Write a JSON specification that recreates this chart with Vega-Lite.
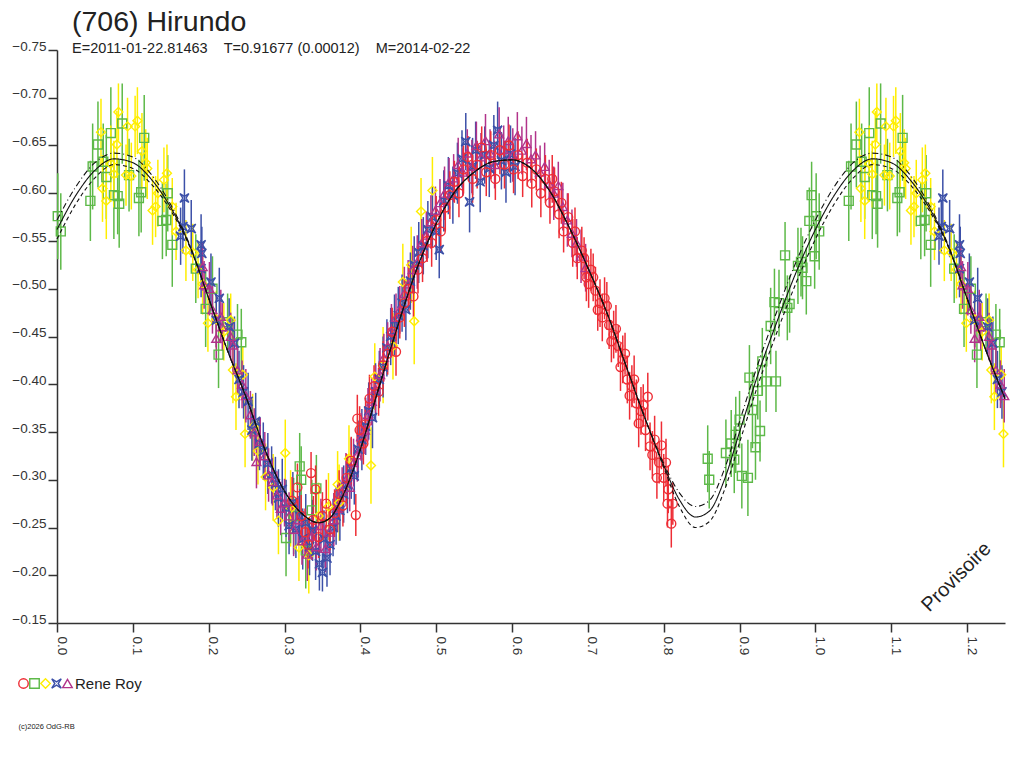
{
  "$schema": "https://vega.github.io/schema/vega-lite/v6.json",
  "autosize": "none",
  "padding": {"left": 57, "top": 50, "right": 19, "bottom": 145},
  "width": 948,
  "height": 573,
  "background": "white",
  "title": {
    "text": "(706) Hirundo",
    "subtitle": "E=2011-01-22.81463\u00a0\u00a0\u00a0\u00a0T=0.91677 (0.00012)\u00a0\u00a0\u00a0\u00a0M=2014-02-22",
    "anchor": "start",
    "frame": "group",
    "dx": 15,
    "offset": -16,
    "font": "Liberation Sans",
    "fontSize": 28.5,
    "fontWeight": "normal",
    "color": "#222222",
    "subtitleFont": "Liberation Sans",
    "subtitleFontSize": 14.5,
    "subtitleColor": "#222222",
    "subtitlePadding": 5
  },
  "config": {
    "view": {"stroke": null},
    "axis": {
      "grid": false,
      "domainColor": "#333333",
      "domainWidth": 1.5,
      "tickColor": "#333333",
      "tickWidth": 1.5,
      "tickSize": 9,
      "labelColor": "#333333",
      "labelFont": "Liberation Sans",
      "labelFontSize": 13.5,
      "labelFlush": false,
      "labelOverlap": false
    },
    "legend": {
      "orient": "none",
      "legendX": -41,
      "legendY": 626,
      "direction": "horizontal",
      "gridAlign": "none",
      "padding": 0,
      "labelOffset": 0,
      "symbolSize": 90,
      "symbolStrokeWidth": 1.4,
      "labelFont": "Liberation Sans",
      "labelFontSize": 15,
      "labelColor": "#222222"
    }
  },
  "datasets": {
    "pts": [
      {"s":"G","p":0.001,"m":-0.576,"e":0.045},{"s":"G","p":0.005,"m":-0.560,"e":0.040},{"s":"G","p":0.044,"m":-0.592,"e":0.042},
      {"s":"G","p":0.047,"m":-0.628,"e":0.045},{"s":"G","p":0.054,"m":-0.651,"e":0.045},{"s":"G","p":0.061,"m":-0.633,"e":0.040},
      {"s":"G","p":0.065,"m":-0.617,"e":0.044},{"s":"G","p":0.071,"m":-0.663,"e":0.048},{"s":"G","p":0.075,"m":-0.598,"e":0.046},
      {"s":"G","p":0.080,"m":-0.597,"e":0.040},{"s":"G","p":0.082,"m":-0.589,"e":0.046},{"s":"G","p":0.086,"m":-0.673,"e":0.042},
      {"s":"G","p":0.095,"m":-0.619,"e":0.038},{"s":"G","p":0.108,"m":-0.595,"e":0.040},{"s":"G","p":0.111,"m":-0.601,"e":0.042},
      {"s":"G","p":0.115,"m":-0.658,"e":0.045},{"s":"G","p":0.139,"m":-0.571,"e":0.040},{"s":"G","p":0.144,"m":-0.572,"e":0.038},
      {"s":"G","p":0.146,"m":-0.600,"e":0.040},{"s":"G","p":0.152,"m":-0.546,"e":0.044},{"s":"G","p":0.183,"m":-0.521,"e":0.036},
      {"s":"G","p":0.196,"m":-0.479,"e":0.040},{"s":"G","p":0.205,"m":-0.500,"e":0.034},{"s":"G","p":0.213,"m":-0.431,"e":0.035},
      {"s":"G","p":0.225,"m":-0.465,"e":0.030},{"s":"G","p":0.238,"m":-0.452,"e":0.032},{"s":"G","p":0.243,"m":-0.444,"e":0.035},
      {"s":"G","p":0.302,"m":-0.239,"e":0.040},{"s":"G","p":0.312,"m":-0.262,"e":0.040},{"s":"G","p":0.320,"m":-0.314,"e":0.035},
      {"s":"G","p":0.322,"m":-0.300,"e":0.035},{"s":"G","p":0.328,"m":-0.226,"e":0.040},{"s":"G","p":0.336,"m":-0.268,"e":0.032},
      {"s":"G","p":0.342,"m":-0.291,"e":0.035},
      {"s":"G","p":0.858,"m":-0.322,"e":0.035},{"s":"G","p":0.860,"m":-0.300,"e":0.030},{"s":"G","p":0.882,"m":-0.328,"e":0.035},
      {"s":"G","p":0.889,"m":-0.338,"e":0.035},{"s":"G","p":0.893,"m":-0.321,"e":0.035},{"s":"G","p":0.895,"m":-0.347,"e":0.040},
      {"s":"G","p":0.900,"m":-0.363,"e":0.030},{"s":"G","p":0.903,"m":-0.304,"e":0.034},{"s":"G","p":0.911,"m":-0.302,"e":0.040},
      {"s":"G","p":0.913,"m":-0.407,"e":0.034},{"s":"G","p":0.917,"m":-0.373,"e":0.040},{"s":"G","p":0.921,"m":-0.334,"e":0.034},
      {"s":"G","p":0.924,"m":-0.393,"e":0.030},{"s":"G","p":0.927,"m":-0.351,"e":0.032},{"s":"G","p":0.930,"m":-0.424,"e":0.035},
      {"s":"G","p":0.935,"m":-0.403,"e":0.032},{"s":"G","p":0.941,"m":-0.461,"e":0.040},{"s":"G","p":0.946,"m":-0.486,"e":0.035},
      {"s":"G","p":0.948,"m":-0.403,"e":0.032},{"s":"G","p":0.952,"m":-0.485,"e":0.035},{"s":"G","p":0.960,"m":-0.535,"e":0.035},
      {"s":"G","p":0.963,"m":-0.480,"e":0.034},{"s":"G","p":0.966,"m":-0.484,"e":0.030},{"s":"G","p":0.977,"m":-0.524,"e":0.040},
      {"s":"G","p":0.981,"m":-0.528,"e":0.036},{"s":"G","p":0.983,"m":-0.522,"e":0.033},{"s":"G","p":0.988,"m":-0.508,"e":0.035},
      {"s":"G","p":0.992,"m":-0.571,"e":0.035},{"s":"G","p":0.995,"m":-0.598,"e":0.035},{"s":"G","p":0.999,"m":-0.534,"e":0.034},
      {"s":"G","p":1.001,"m":-0.576,"e":0.045},{"s":"G","p":1.005,"m":-0.560,"e":0.040},{"s":"G","p":1.044,"m":-0.592,"e":0.042},
      {"s":"G","p":1.047,"m":-0.628,"e":0.045},{"s":"G","p":1.054,"m":-0.651,"e":0.045},{"s":"G","p":1.061,"m":-0.633,"e":0.040},
      {"s":"G","p":1.065,"m":-0.617,"e":0.044},{"s":"G","p":1.071,"m":-0.663,"e":0.048},{"s":"G","p":1.075,"m":-0.598,"e":0.046},
      {"s":"G","p":1.080,"m":-0.597,"e":0.040},{"s":"G","p":1.082,"m":-0.589,"e":0.046},{"s":"G","p":1.086,"m":-0.673,"e":0.042},
      {"s":"G","p":1.095,"m":-0.619,"e":0.038},{"s":"G","p":1.108,"m":-0.595,"e":0.040},{"s":"G","p":1.111,"m":-0.601,"e":0.042},
      {"s":"G","p":1.115,"m":-0.658,"e":0.045},{"s":"G","p":1.139,"m":-0.571,"e":0.040},{"s":"G","p":1.144,"m":-0.572,"e":0.038},
      {"s":"G","p":1.146,"m":-0.600,"e":0.040},{"s":"G","p":1.152,"m":-0.546,"e":0.044},{"s":"G","p":1.183,"m":-0.521,"e":0.036},
      {"s":"G","p":1.196,"m":-0.479,"e":0.040},{"s":"G","p":1.205,"m":-0.500,"e":0.034},{"s":"G","p":1.213,"m":-0.431,"e":0.035},
      {"s":"G","p":1.225,"m":-0.465,"e":0.030},{"s":"G","p":1.238,"m":-0.452,"e":0.032},{"s":"G","p":1.243,"m":-0.444,"e":0.035},

      {"s":"Y","p":0.058,"m":-0.664,"e":0.035},{"s":"Y","p":0.060,"m":-0.605,"e":0.035},{"s":"Y","p":0.065,"m":-0.592,"e":0.040},
      {"s":"Y","p":0.071,"m":-0.631,"e":0.040},{"s":"Y","p":0.075,"m":-0.620,"e":0.035},{"s":"Y","p":0.079,"m":-0.651,"e":0.035},
      {"s":"Y","p":0.081,"m":-0.685,"e":0.030},{"s":"Y","p":0.091,"m":-0.619,"e":0.032},{"s":"Y","p":0.093,"m":-0.670,"e":0.030},
      {"s":"Y","p":0.098,"m":-0.618,"e":0.035},{"s":"Y","p":0.103,"m":-0.670,"e":0.032},{"s":"Y","p":0.106,"m":-0.676,"e":0.035},
      {"s":"Y","p":0.112,"m":-0.644,"e":0.040},{"s":"Y","p":0.117,"m":-0.632,"e":0.035},{"s":"Y","p":0.119,"m":-0.626,"e":0.032},
      {"s":"Y","p":0.126,"m":-0.582,"e":0.036},{"s":"Y","p":0.130,"m":-0.586,"e":0.032},{"s":"Y","p":0.133,"m":-0.600,"e":0.035},
      {"s":"Y","p":0.141,"m":-0.614,"e":0.034},{"s":"Y","p":0.145,"m":-0.621,"e":0.030},{"s":"Y","p":0.152,"m":-0.586,"e":0.030},
      {"s":"Y","p":0.157,"m":-0.560,"e":0.030},{"s":"Y","p":0.170,"m":-0.540,"e":0.032},{"s":"Y","p":0.179,"m":-0.538,"e":0.030},
      {"s":"Y","p":0.186,"m":-0.520,"e":0.030},{"s":"Y","p":0.192,"m":-0.505,"e":0.032},{"s":"Y","p":0.199,"m":-0.464,"e":0.030},
      {"s":"Y","p":0.210,"m":-0.468,"e":0.030},{"s":"Y","p":0.220,"m":-0.455,"e":0.030},{"s":"Y","p":0.229,"m":-0.467,"e":0.028},
      {"s":"Y","p":0.232,"m":-0.415,"e":0.035},{"s":"Y","p":0.236,"m":-0.387,"e":0.035},{"s":"Y","p":0.245,"m":-0.410,"e":0.030},
      {"s":"Y","p":0.248,"m":-0.348,"e":0.035},
      {"s":"Y","p":0.258,"m":-0.355,"e":0.035},{"s":"Y","p":0.265,"m":-0.330,"e":0.035},{"s":"Y","p":0.275,"m":-0.303,"e":0.035},
      {"s":"Y","p":0.285,"m":-0.292,"e":0.035},{"s":"Y","p":0.292,"m":-0.257,"e":0.035},{"s":"Y","p":0.301,"m":-0.328,"e":0.035},
      {"s":"Y","p":0.308,"m":-0.270,"e":0.040},{"s":"Y","p":0.319,"m":-0.229,"e":0.035},{"s":"Y","p":0.332,"m":-0.221,"e":0.040},
      {"s":"Y","p":0.345,"m":-0.262,"e":0.035},{"s":"Y","p":0.358,"m":-0.272,"e":0.035},{"s":"Y","p":0.370,"m":-0.295,"e":0.035},
      {"s":"Y","p":0.372,"m":-0.276,"e":0.040},{"s":"Y","p":0.385,"m":-0.322,"e":0.035},{"s":"Y","p":0.414,"m":-0.315,"e":0.040},
      {"s":"Y","p":0.419,"m":-0.408,"e":0.035},{"s":"Y","p":0.430,"m":-0.420,"e":0.040},{"s":"Y","p":0.443,"m":-0.440,"e":0.035},
      {"s":"Y","p":0.456,"m":-0.507,"e":0.040},{"s":"Y","p":0.467,"m":-0.525,"e":0.040},{"s":"Y","p":0.471,"m":-0.466,"e":0.045},
      {"s":"Y","p":0.480,"m":-0.581,"e":0.035},{"s":"Y","p":0.495,"m":-0.603,"e":0.035},
      {"s":"Y","p":1.058,"m":-0.664,"e":0.035},{"s":"Y","p":1.060,"m":-0.605,"e":0.035},{"s":"Y","p":1.065,"m":-0.592,"e":0.040},
      {"s":"Y","p":1.071,"m":-0.631,"e":0.040},{"s":"Y","p":1.075,"m":-0.620,"e":0.035},{"s":"Y","p":1.079,"m":-0.651,"e":0.035},
      {"s":"Y","p":1.081,"m":-0.685,"e":0.030},{"s":"Y","p":1.091,"m":-0.619,"e":0.032},{"s":"Y","p":1.093,"m":-0.670,"e":0.030},
      {"s":"Y","p":1.098,"m":-0.618,"e":0.035},{"s":"Y","p":1.103,"m":-0.670,"e":0.032},{"s":"Y","p":1.106,"m":-0.676,"e":0.035},
      {"s":"Y","p":1.112,"m":-0.644,"e":0.040},{"s":"Y","p":1.117,"m":-0.632,"e":0.035},{"s":"Y","p":1.119,"m":-0.626,"e":0.032},
      {"s":"Y","p":1.126,"m":-0.582,"e":0.036},{"s":"Y","p":1.130,"m":-0.586,"e":0.032},{"s":"Y","p":1.133,"m":-0.600,"e":0.035},
      {"s":"Y","p":1.141,"m":-0.614,"e":0.034},{"s":"Y","p":1.145,"m":-0.621,"e":0.030},{"s":"Y","p":1.152,"m":-0.586,"e":0.030},
      {"s":"Y","p":1.157,"m":-0.560,"e":0.030},{"s":"Y","p":1.170,"m":-0.540,"e":0.032},{"s":"Y","p":1.179,"m":-0.538,"e":0.030},
      {"s":"Y","p":1.186,"m":-0.520,"e":0.030},{"s":"Y","p":1.192,"m":-0.505,"e":0.032},{"s":"Y","p":1.199,"m":-0.464,"e":0.030},
      {"s":"Y","p":1.210,"m":-0.468,"e":0.030},{"s":"Y","p":1.220,"m":-0.455,"e":0.030},{"s":"Y","p":1.229,"m":-0.467,"e":0.028},
      {"s":"Y","p":1.232,"m":-0.415,"e":0.035},{"s":"Y","p":1.236,"m":-0.387,"e":0.035},{"s":"Y","p":1.245,"m":-0.410,"e":0.030},
      {"s":"Y","p":1.248,"m":-0.348,"e":0.035},

      {"s":"B","p":0.163,"m":-0.555,"e":0.030},{"s":"B","p":0.166,"m":-0.565,"e":0.028},{"s":"B","p":0.168,"m":-0.595,"e":0.030},
      {"s":"B","p":0.177,"m":-0.563,"e":0.030},{"s":"B","p":0.190,"m":-0.546,"e":0.032},{"s":"B","p":0.191,"m":-0.537,"e":0.028},
      {"s":"B","p":0.190,"m":-0.521,"e":0.030},{"s":"B","p":0.203,"m":-0.507,"e":0.030},{"s":"B","p":0.210,"m":-0.467,"e":0.028},
      {"s":"B","p":0.214,"m":-0.490,"e":0.032},{"s":"B","p":0.227,"m":-0.460,"e":0.030},{"s":"B","p":0.234,"m":-0.443,"e":0.028},
      {"s":"B","p":0.240,"m":-0.405,"e":0.030},{"s":"B","p":0.246,"m":-0.392,"e":0.028},{"s":"B","p":0.252,"m":-0.382,"e":0.030},
      {"s":"B","p":0.257,"m":-0.352,"e":0.032},{"s":"B","p":0.262,"m":-0.361,"e":0.030},{"s":"B","p":0.267,"m":-0.338,"e":0.028},
      {"s":"B","p":0.272,"m":-0.330,"e":0.030},{"s":"B","p":0.278,"m":-0.317,"e":0.032},{"s":"B","p":0.283,"m":-0.305,"e":0.030},
      {"s":"B","p":0.288,"m":-0.296,"e":0.028},{"s":"B","p":0.292,"m":-0.281,"e":0.030},{"s":"B","p":0.297,"m":-0.290,"e":0.032},
      {"s":"B","p":0.302,"m":-0.270,"e":0.030},{"s":"B","p":0.306,"m":-0.252,"e":0.030},{"s":"B","p":0.311,"m":-0.276,"e":0.032},
      {"s":"B","p":0.315,"m":-0.248,"e":0.030},{"s":"B","p":0.320,"m":-0.262,"e":0.028},{"s":"B","p":0.324,"m":-0.238,"e":0.032},
      {"s":"B","p":0.328,"m":-0.255,"e":0.030},{"s":"B","p":0.333,"m":-0.230,"e":0.030},{"s":"B","p":0.337,"m":-0.247,"e":0.032},
      {"s":"B","p":0.341,"m":-0.225,"e":0.030},{"s":"B","p":0.346,"m":-0.212,"e":0.028},{"s":"B","p":0.350,"m":-0.203,"e":0.020},
      {"s":"B","p":0.352,"m":-0.238,"e":0.030},{"s":"B","p":0.356,"m":-0.218,"e":0.030},{"s":"B","p":0.360,"m":-0.232,"e":0.032},
      {"s":"B","p":0.364,"m":-0.250,"e":0.030},{"s":"B","p":0.368,"m":-0.262,"e":0.030},{"s":"B","p":0.373,"m":-0.268,"e":0.032},
      {"s":"B","p":0.378,"m":-0.285,"e":0.030},{"s":"B","p":0.383,"m":-0.295,"e":0.030},{"s":"B","p":0.388,"m":-0.312,"e":0.032},
      {"s":"B","p":0.392,"m":-0.304,"e":0.030},{"s":"B","p":0.397,"m":-0.332,"e":0.030},{"s":"B","p":0.402,"m":-0.342,"e":0.032},
      {"s":"B","p":0.407,"m":-0.356,"e":0.030},{"s":"B","p":0.411,"m":-0.372,"e":0.030},{"s":"B","p":0.416,"m":-0.365,"e":0.032},
      {"s":"B","p":0.420,"m":-0.392,"e":0.030},{"s":"B","p":0.425,"m":-0.405,"e":0.030},{"s":"B","p":0.430,"m":-0.418,"e":0.032},
      {"s":"B","p":0.435,"m":-0.438,"e":0.030},{"s":"B","p":0.440,"m":-0.450,"e":0.030},{"s":"B","p":0.445,"m":-0.462,"e":0.032},
      {"s":"B","p":0.450,"m":-0.472,"e":0.030},{"s":"B","p":0.455,"m":-0.485,"e":0.030},{"s":"B","p":0.460,"m":-0.478,"e":0.032},
      {"s":"B","p":0.466,"m":-0.508,"e":0.030},{"s":"B","p":0.471,"m":-0.525,"e":0.030},{"s":"B","p":0.477,"m":-0.538,"e":0.032},
      {"s":"B","p":0.483,"m":-0.545,"e":0.030},{"s":"B","p":0.489,"m":-0.562,"e":0.030},{"s":"B","p":0.495,"m":-0.575,"e":0.032},
      {"s":"B","p":0.500,"m":-0.560,"e":0.030},{"s":"B","p":0.504,"m":-0.541,"e":0.030},{"s":"B","p":0.510,"m":-0.592,"e":0.032},
      {"s":"B","p":0.516,"m":-0.608,"e":0.030},{"s":"B","p":0.522,"m":-0.598,"e":0.030},{"s":"B","p":0.528,"m":-0.621,"e":0.032},
      {"s":"B","p":0.534,"m":-0.636,"e":0.030},{"s":"B","p":0.539,"m":-0.654,"e":0.030},{"s":"B","p":0.544,"m":-0.591,"e":0.032},
      {"s":"B","p":0.548,"m":-0.628,"e":0.030},{"s":"B","p":0.552,"m":-0.645,"e":0.030},{"s":"B","p":0.558,"m":-0.612,"e":0.032},
      {"s":"B","p":0.564,"m":-0.640,"e":0.030},{"s":"B","p":0.570,"m":-0.626,"e":0.030},{"s":"B","p":0.576,"m":-0.650,"e":0.032},
      {"s":"B","p":0.581,"m":-0.666,"e":0.030},{"s":"B","p":0.586,"m":-0.634,"e":0.030},{"s":"B","p":0.592,"m":-0.622,"e":0.032},
      {"s":"B","p":0.598,"m":-0.641,"e":0.030},{"s":"B","p":0.604,"m":-0.628,"e":0.030},
      {"s":"B","p":1.163,"m":-0.555,"e":0.030},{"s":"B","p":1.166,"m":-0.565,"e":0.028},{"s":"B","p":1.168,"m":-0.595,"e":0.030},
      {"s":"B","p":1.177,"m":-0.563,"e":0.030},{"s":"B","p":1.190,"m":-0.546,"e":0.032},{"s":"B","p":1.191,"m":-0.537,"e":0.028},
      {"s":"B","p":1.190,"m":-0.521,"e":0.030},{"s":"B","p":1.203,"m":-0.507,"e":0.030},{"s":"B","p":1.210,"m":-0.467,"e":0.028},
      {"s":"B","p":1.214,"m":-0.490,"e":0.032},{"s":"B","p":1.227,"m":-0.460,"e":0.030},{"s":"B","p":1.234,"m":-0.443,"e":0.028},
      {"s":"B","p":1.240,"m":-0.405,"e":0.030},{"s":"B","p":1.246,"m":-0.392,"e":0.028},

      {"s":"P","p":0.192,"m":-0.523,"e":0.025},{"s":"P","p":0.194,"m":-0.504,"e":0.025},{"s":"P","p":0.201,"m":-0.500,"e":0.028},
      {"s":"P","p":0.205,"m":-0.478,"e":0.025},{"s":"P","p":0.210,"m":-0.448,"e":0.025},{"s":"P","p":0.216,"m":-0.471,"e":0.028},
      {"s":"P","p":0.218,"m":-0.460,"e":0.025},{"s":"P","p":0.229,"m":-0.450,"e":0.025},{"s":"P","p":0.232,"m":-0.441,"e":0.028},
      {"s":"P","p":0.238,"m":-0.415,"e":0.025},{"s":"P","p":0.244,"m":-0.400,"e":0.025},{"s":"P","p":0.249,"m":-0.388,"e":0.028},
      {"s":"P","p":0.255,"m":-0.368,"e":0.025},{"s":"P","p":0.260,"m":-0.350,"e":0.025},{"s":"P","p":0.263,"m":-0.319,"e":0.028},
      {"s":"P","p":0.268,"m":-0.340,"e":0.025},{"s":"P","p":0.274,"m":-0.325,"e":0.025},{"s":"P","p":0.279,"m":-0.305,"e":0.028},
      {"s":"P","p":0.284,"m":-0.298,"e":0.025},{"s":"P","p":0.290,"m":-0.284,"e":0.025},{"s":"P","p":0.295,"m":-0.270,"e":0.028},
      {"s":"P","p":0.300,"m":-0.276,"e":0.025},{"s":"P","p":0.306,"m":-0.262,"e":0.025},{"s":"P","p":0.312,"m":-0.248,"e":0.028},
      {"s":"P","p":0.318,"m":-0.258,"e":0.025},{"s":"P","p":0.323,"m":-0.236,"e":0.025},{"s":"P","p":0.330,"m":-0.222,"e":0.028},
      {"s":"P","p":0.336,"m":-0.241,"e":0.025},{"s":"P","p":0.342,"m":-0.230,"e":0.025},{"s":"P","p":0.348,"m":-0.252,"e":0.028},
      {"s":"P","p":0.354,"m":-0.228,"e":0.025},{"s":"P","p":0.359,"m":-0.245,"e":0.025},{"s":"P","p":0.365,"m":-0.258,"e":0.028},
      {"s":"P","p":0.370,"m":-0.270,"e":0.025},{"s":"P","p":0.376,"m":-0.288,"e":0.025},{"s":"P","p":0.381,"m":-0.300,"e":0.028},
      {"s":"P","p":0.386,"m":-0.292,"e":0.025},{"s":"P","p":0.391,"m":-0.318,"e":0.025},{"s":"P","p":0.396,"m":-0.326,"e":0.028},
      {"s":"P","p":0.401,"m":-0.345,"e":0.025},{"s":"P","p":0.406,"m":-0.352,"e":0.025},{"s":"P","p":0.410,"m":-0.368,"e":0.028},
      {"s":"P","p":0.415,"m":-0.382,"e":0.025},{"s":"P","p":0.420,"m":-0.395,"e":0.025},{"s":"P","p":0.426,"m":-0.410,"e":0.028},
      {"s":"P","p":0.431,"m":-0.428,"e":0.025},{"s":"P","p":0.436,"m":-0.440,"e":0.025},{"s":"P","p":0.441,"m":-0.456,"e":0.028},
      {"s":"P","p":0.447,"m":-0.470,"e":0.025},{"s":"P","p":0.452,"m":-0.478,"e":0.025},{"s":"P","p":0.458,"m":-0.495,"e":0.028},
      {"s":"P","p":0.463,"m":-0.505,"e":0.025},{"s":"P","p":0.469,"m":-0.520,"e":0.025},{"s":"P","p":0.475,"m":-0.528,"e":0.028},
      {"s":"P","p":0.481,"m":-0.548,"e":0.025},{"s":"P","p":0.487,"m":-0.556,"e":0.025},{"s":"P","p":0.493,"m":-0.570,"e":0.028},
      {"s":"P","p":0.499,"m":-0.582,"e":0.025},{"s":"P","p":0.505,"m":-0.590,"e":0.025},{"s":"P","p":0.511,"m":-0.600,"e":0.028},
      {"s":"P","p":0.517,"m":-0.612,"e":0.025},{"s":"P","p":0.523,"m":-0.616,"e":0.025},{"s":"P","p":0.529,"m":-0.630,"e":0.028},
      {"s":"P","p":0.535,"m":-0.622,"e":0.025},{"s":"P","p":0.541,"m":-0.642,"e":0.025},{"s":"P","p":0.547,"m":-0.628,"e":0.028},
      {"s":"P","p":0.553,"m":-0.650,"e":0.025},{"s":"P","p":0.559,"m":-0.638,"e":0.025},{"s":"P","p":0.565,"m":-0.655,"e":0.028},
      {"s":"P","p":0.571,"m":-0.642,"e":0.025},{"s":"P","p":0.577,"m":-0.630,"e":0.025},{"s":"P","p":0.583,"m":-0.662,"e":0.028},
      {"s":"P","p":0.589,"m":-0.646,"e":0.025},{"s":"P","p":0.595,"m":-0.655,"e":0.025},{"s":"P","p":0.601,"m":-0.640,"e":0.028},
      {"s":"P","p":0.607,"m":-0.660,"e":0.025},{"s":"P","p":0.613,"m":-0.645,"e":0.025},{"s":"P","p":0.619,"m":-0.652,"e":0.028},
      {"s":"P","p":0.625,"m":-0.636,"e":0.025},{"s":"P","p":0.631,"m":-0.640,"e":0.025},{"s":"P","p":0.637,"m":-0.622,"e":0.028},
      {"s":"P","p":0.643,"m":-0.628,"e":0.025},{"s":"P","p":0.649,"m":-0.610,"e":0.025},{"s":"P","p":0.655,"m":-0.600,"e":0.028},
      {"s":"P","p":0.661,"m":-0.608,"e":0.025},{"s":"P","p":0.667,"m":-0.586,"e":0.025},{"s":"P","p":0.673,"m":-0.572,"e":0.028},
      {"s":"P","p":0.679,"m":-0.558,"e":0.025},{"s":"P","p":0.685,"m":-0.548,"e":0.025},{"s":"P","p":0.691,"m":-0.534,"e":0.028},
      {"s":"P","p":0.697,"m":-0.522,"e":0.025},
      {"s":"P","p":1.192,"m":-0.523,"e":0.025},{"s":"P","p":1.194,"m":-0.504,"e":0.025},{"s":"P","p":1.201,"m":-0.500,"e":0.028},
      {"s":"P","p":1.205,"m":-0.478,"e":0.025},{"s":"P","p":1.210,"m":-0.448,"e":0.025},{"s":"P","p":1.216,"m":-0.471,"e":0.028},
      {"s":"P","p":1.218,"m":-0.460,"e":0.025},{"s":"P","p":1.229,"m":-0.450,"e":0.025},{"s":"P","p":1.232,"m":-0.441,"e":0.028},
      {"s":"P","p":1.238,"m":-0.415,"e":0.025},{"s":"P","p":1.244,"m":-0.400,"e":0.025},{"s":"P","p":1.249,"m":-0.388,"e":0.028},

      {"s":"R","p":0.310,"m":-0.278,"e":0.025},{"s":"R","p":0.317,"m":-0.292,"e":0.025},{"s":"R","p":0.322,"m":-0.262,"e":0.022},
      {"s":"R","p":0.327,"m":-0.245,"e":0.025},{"s":"R","p":0.331,"m":-0.232,"e":0.025},{"s":"R","p":0.335,"m":-0.307,"e":0.022},
      {"s":"R","p":0.338,"m":-0.258,"e":0.025},{"s":"R","p":0.341,"m":-0.290,"e":0.025},{"s":"R","p":0.345,"m":-0.240,"e":0.022},
      {"s":"R","p":0.350,"m":-0.262,"e":0.025},{"s":"R","p":0.355,"m":-0.275,"e":0.025},{"s":"R","p":0.360,"m":-0.248,"e":0.022},
      {"s":"R","p":0.366,"m":-0.265,"e":0.025},{"s":"R","p":0.372,"m":-0.285,"e":0.025},{"s":"R","p":0.377,"m":-0.273,"e":0.022},
      {"s":"R","p":0.382,"m":-0.302,"e":0.025},{"s":"R","p":0.388,"m":-0.320,"e":0.025},{"s":"R","p":0.394,"m":-0.263,"e":0.022},
      {"s":"R","p":0.396,"m":-0.364,"e":0.025},{"s":"R","p":0.399,"m":-0.352,"e":0.025},{"s":"R","p":0.404,"m":-0.338,"e":0.022},
      {"s":"R","p":0.407,"m":-0.358,"e":0.025},{"s":"R","p":0.412,"m":-0.385,"e":0.025},{"s":"R","p":0.418,"m":-0.398,"e":0.022},
      {"s":"R","p":0.424,"m":-0.392,"e":0.025},{"s":"R","p":0.430,"m":-0.420,"e":0.025},{"s":"R","p":0.436,"m":-0.432,"e":0.022},
      {"s":"R","p":0.442,"m":-0.455,"e":0.025},{"s":"R","p":0.447,"m":-0.434,"e":0.025},{"s":"R","p":0.452,"m":-0.470,"e":0.022},
      {"s":"R","p":0.458,"m":-0.485,"e":0.025},{"s":"R","p":0.464,"m":-0.500,"e":0.025},{"s":"R","p":0.470,"m":-0.492,"e":0.022},
      {"s":"R","p":0.476,"m":-0.520,"e":0.025},{"s":"R","p":0.482,"m":-0.532,"e":0.025},{"s":"R","p":0.488,"m":-0.550,"e":0.022},
      {"s":"R","p":0.494,"m":-0.548,"e":0.025},{"s":"R","p":0.500,"m":-0.572,"e":0.025},{"s":"R","p":0.506,"m":-0.560,"e":0.022},
      {"s":"R","p":0.512,"m":-0.585,"e":0.025},{"s":"R","p":0.518,"m":-0.598,"e":0.025},{"s":"R","p":0.524,"m":-0.612,"e":0.022},
      {"s":"R","p":0.530,"m":-0.600,"e":0.025},{"s":"R","p":0.536,"m":-0.625,"e":0.025},{"s":"R","p":0.542,"m":-0.638,"e":0.022},
      {"s":"R","p":0.548,"m":-0.615,"e":0.025},{"s":"R","p":0.554,"m":-0.630,"e":0.025},{"s":"R","p":0.560,"m":-0.648,"e":0.022},
      {"s":"R","p":0.566,"m":-0.622,"e":0.025},{"s":"R","p":0.572,"m":-0.640,"e":0.025},{"s":"R","p":0.578,"m":-0.615,"e":0.022},
      {"s":"R","p":0.584,"m":-0.645,"e":0.025},{"s":"R","p":0.590,"m":-0.630,"e":0.025},{"s":"R","p":0.596,"m":-0.650,"e":0.022},
      {"s":"R","p":0.602,"m":-0.625,"e":0.025},{"s":"R","p":0.608,"m":-0.640,"e":0.025},{"s":"R","p":0.614,"m":-0.618,"e":0.022},
      {"s":"R","p":0.620,"m":-0.632,"e":0.025},{"s":"R","p":0.626,"m":-0.610,"e":0.025},{"s":"R","p":0.632,"m":-0.625,"e":0.022},
      {"s":"R","p":0.638,"m":-0.600,"e":0.025},{"s":"R","p":0.644,"m":-0.615,"e":0.025},{"s":"R","p":0.650,"m":-0.590,"e":0.022},
      {"s":"R","p":0.653,"m":-0.615,"e":0.025},{"s":"R","p":0.656,"m":-0.602,"e":0.025},{"s":"R","p":0.662,"m":-0.578,"e":0.025},
      {"s":"R","p":0.665,"m":-0.590,"e":0.022},{"s":"R","p":0.668,"m":-0.560,"e":0.022},{"s":"R","p":0.674,"m":-0.575,"e":0.025},
      {"s":"R","p":0.680,"m":-0.548,"e":0.025},{"s":"R","p":0.683,"m":-0.560,"e":0.025},{"s":"R","p":0.686,"m":-0.532,"e":0.022},
      {"s":"R","p":0.692,"m":-0.540,"e":0.025},{"s":"R","p":0.695,"m":-0.532,"e":0.022},{"s":"R","p":0.698,"m":-0.512,"e":0.025},
      {"s":"R","p":0.701,"m":-0.505,"e":0.025},{"s":"R","p":0.704,"m":-0.520,"e":0.022},{"s":"R","p":0.707,"m":-0.512,"e":0.025},
      {"s":"R","p":0.710,"m":-0.498,"e":0.025},{"s":"R","p":0.713,"m":-0.478,"e":0.022},{"s":"R","p":0.716,"m":-0.485,"e":0.025},
      {"s":"R","p":0.719,"m":-0.470,"e":0.025},{"s":"R","p":0.722,"m":-0.490,"e":0.022},{"s":"R","p":0.725,"m":-0.482,"e":0.025},
      {"s":"R","p":0.728,"m":-0.462,"e":0.025},{"s":"R","p":0.731,"m":-0.445,"e":0.022},{"s":"R","p":0.734,"m":-0.452,"e":0.025},
      {"s":"R","p":0.737,"m":-0.458,"e":0.025},{"s":"R","p":0.740,"m":-0.440,"e":0.022},{"s":"R","p":0.743,"m":-0.418,"e":0.025},
      {"s":"R","p":0.746,"m":-0.426,"e":0.025},{"s":"R","p":0.749,"m":-0.432,"e":0.022},{"s":"R","p":0.752,"m":-0.405,"e":0.025},
      {"s":"R","p":0.755,"m":-0.388,"e":0.025},{"s":"R","p":0.758,"m":-0.398,"e":0.022},{"s":"R","p":0.761,"m":-0.405,"e":0.025},
      {"s":"R","p":0.764,"m":-0.380,"e":0.025},{"s":"R","p":0.767,"m":-0.359,"e":0.025},{"s":"R","p":0.770,"m":-0.372,"e":0.025},
      {"s":"R","p":0.773,"m":-0.378,"e":0.022},{"s":"R","p":0.776,"m":-0.352,"e":0.022},{"s":"R","p":0.779,"m":-0.387,"e":0.025},
      {"s":"R","p":0.782,"m":-0.335,"e":0.025},{"s":"R","p":0.785,"m":-0.326,"e":0.025},{"s":"R","p":0.788,"m":-0.342,"e":0.025},
      {"s":"R","p":0.791,"m":-0.302,"e":0.022},{"s":"R","p":0.794,"m":-0.318,"e":0.022},{"s":"R","p":0.797,"m":-0.336,"e":0.025},
      {"s":"R","p":0.800,"m":-0.302,"e":0.025},{"s":"R","p":0.803,"m":-0.318,"e":0.025},{"s":"R","p":0.805,"m":-0.275,"e":0.025},
      {"s":"R","p":0.806,"m":-0.290,"e":0.025},{"s":"R","p":0.810,"m":-0.254,"e":0.025},{"s":"R","p":0.812,"m":-0.275,"e":0.022}
    ],
    "fit": [
      {"c":"mid","p":0.000,"m":-0.562},{"c":"mid","p":0.025,"m":-0.598},{"c":"mid","p":0.050,"m":-0.624},{"c":"mid","p":0.075,"m":-0.636},
      {"c":"mid","p":0.100,"m":-0.632},{"c":"mid","p":0.125,"m":-0.614},{"c":"mid","p":0.150,"m":-0.585},{"c":"mid","p":0.175,"m":-0.545},
      {"c":"mid","p":0.200,"m":-0.490},{"c":"mid","p":0.225,"m":-0.435},{"c":"mid","p":0.250,"m":-0.385},{"c":"mid","p":0.275,"m":-0.330},
      {"c":"mid","p":0.300,"m":-0.288},{"c":"mid","p":0.325,"m":-0.263},{"c":"mid","p":0.345,"m":-0.255},{"c":"mid","p":0.360,"m":-0.260},
      {"c":"mid","p":0.375,"m":-0.280},{"c":"mid","p":0.400,"m":-0.332},{"c":"mid","p":0.425,"m":-0.398},{"c":"mid","p":0.450,"m":-0.463},
      {"c":"mid","p":0.475,"m":-0.522},{"c":"mid","p":0.500,"m":-0.568},{"c":"mid","p":0.525,"m":-0.602},{"c":"mid","p":0.550,"m":-0.622},
      {"c":"mid","p":0.575,"m":-0.633},{"c":"mid","p":0.600,"m":-0.635},{"c":"mid","p":0.625,"m":-0.626},{"c":"mid","p":0.650,"m":-0.602},
      {"c":"mid","p":0.675,"m":-0.565},{"c":"mid","p":0.700,"m":-0.522},{"c":"mid","p":0.725,"m":-0.475},{"c":"mid","p":0.750,"m":-0.420},
      {"c":"mid","p":0.775,"m":-0.365},{"c":"mid","p":0.800,"m":-0.315},{"c":"mid","p":0.820,"m":-0.280},{"c":"mid","p":0.842,"m":-0.261},
      {"c":"mid","p":0.860,"m":-0.267},{"c":"mid","p":0.880,"m":-0.300},{"c":"mid","p":0.900,"m":-0.350},{"c":"mid","p":0.925,"m":-0.412},
      {"c":"mid","p":0.950,"m":-0.467},{"c":"mid","p":0.975,"m":-0.518},{"c":"mid","p":1.000,"m":-0.562},{"c":"mid","p":1.025,"m":-0.598},
      {"c":"mid","p":1.050,"m":-0.624},{"c":"mid","p":1.075,"m":-0.636},{"c":"mid","p":1.100,"m":-0.632},{"c":"mid","p":1.125,"m":-0.614},
      {"c":"mid","p":1.150,"m":-0.585},{"c":"mid","p":1.175,"m":-0.545},{"c":"mid","p":1.200,"m":-0.490},{"c":"mid","p":1.225,"m":-0.435},
      {"c":"mid","p":1.250,"m":-0.385},
      {"c":"up","p":0.000,"m":-0.572},{"c":"up","p":0.025,"m":-0.607},{"c":"up","p":0.050,"m":-0.632},{"c":"up","p":0.075,"m":-0.642},
      {"c":"up","p":0.100,"m":-0.638},{"c":"up","p":0.125,"m":-0.619},{"c":"up","p":0.150,"m":-0.588},{"c":"up","p":0.175,"m":-0.546},
      {"c":"up","p":0.200,"m":-0.490},{"c":"up","p":0.225,"m":-0.435},{"c":"up","p":0.250,"m":-0.385},{"c":"up","p":0.275,"m":-0.330},
      {"c":"up","p":0.300,"m":-0.288},{"c":"up","p":0.325,"m":-0.263},{"c":"up","p":0.345,"m":-0.255},{"c":"up","p":0.360,"m":-0.260},
      {"c":"up","p":0.375,"m":-0.280},{"c":"up","p":0.400,"m":-0.332},{"c":"up","p":0.425,"m":-0.398},{"c":"up","p":0.450,"m":-0.463},
      {"c":"up","p":0.475,"m":-0.522},{"c":"up","p":0.500,"m":-0.568},{"c":"up","p":0.525,"m":-0.602},{"c":"up","p":0.550,"m":-0.622},
      {"c":"up","p":0.575,"m":-0.633},{"c":"up","p":0.600,"m":-0.635},{"c":"up","p":0.625,"m":-0.626},{"c":"up","p":0.650,"m":-0.602},
      {"c":"up","p":0.675,"m":-0.565},{"c":"up","p":0.700,"m":-0.522},{"c":"up","p":0.725,"m":-0.475},{"c":"up","p":0.750,"m":-0.420},
      {"c":"up","p":0.775,"m":-0.365},{"c":"up","p":0.800,"m":-0.317},{"c":"up","p":0.820,"m":-0.287},{"c":"up","p":0.842,"m":-0.272},
      {"c":"up","p":0.860,"m":-0.278},{"c":"up","p":0.880,"m":-0.311},{"c":"up","p":0.900,"m":-0.361},{"c":"up","p":0.925,"m":-0.423},
      {"c":"up","p":0.950,"m":-0.478},{"c":"up","p":0.975,"m":-0.529},{"c":"up","p":1.000,"m":-0.572},{"c":"up","p":1.025,"m":-0.607},
      {"c":"up","p":1.050,"m":-0.632},{"c":"up","p":1.075,"m":-0.642},{"c":"up","p":1.100,"m":-0.638},{"c":"up","p":1.125,"m":-0.619},
      {"c":"up","p":1.150,"m":-0.588},{"c":"up","p":1.175,"m":-0.546},{"c":"up","p":1.200,"m":-0.490},{"c":"up","p":1.225,"m":-0.435},
      {"c":"up","p":1.250,"m":-0.385},
      {"c":"lo","p":0.000,"m":-0.552},{"c":"lo","p":0.025,"m":-0.589},{"c":"lo","p":0.050,"m":-0.616},{"c":"lo","p":0.075,"m":-0.630},
      {"c":"lo","p":0.100,"m":-0.626},{"c":"lo","p":0.125,"m":-0.609},{"c":"lo","p":0.150,"m":-0.582},{"c":"lo","p":0.175,"m":-0.544},
      {"c":"lo","p":0.200,"m":-0.490},{"c":"lo","p":0.225,"m":-0.435},{"c":"lo","p":0.250,"m":-0.385},{"c":"lo","p":0.275,"m":-0.330},
      {"c":"lo","p":0.300,"m":-0.288},{"c":"lo","p":0.325,"m":-0.263},{"c":"lo","p":0.345,"m":-0.255},{"c":"lo","p":0.360,"m":-0.260},
      {"c":"lo","p":0.375,"m":-0.280},{"c":"lo","p":0.400,"m":-0.332},{"c":"lo","p":0.425,"m":-0.398},{"c":"lo","p":0.450,"m":-0.463},
      {"c":"lo","p":0.475,"m":-0.522},{"c":"lo","p":0.500,"m":-0.568},{"c":"lo","p":0.525,"m":-0.602},{"c":"lo","p":0.550,"m":-0.622},
      {"c":"lo","p":0.575,"m":-0.633},{"c":"lo","p":0.600,"m":-0.635},{"c":"lo","p":0.625,"m":-0.626},{"c":"lo","p":0.650,"m":-0.602},
      {"c":"lo","p":0.675,"m":-0.565},{"c":"lo","p":0.700,"m":-0.522},{"c":"lo","p":0.725,"m":-0.475},{"c":"lo","p":0.750,"m":-0.420},
      {"c":"lo","p":0.775,"m":-0.365},{"c":"lo","p":0.800,"m":-0.313},{"c":"lo","p":0.820,"m":-0.273},{"c":"lo","p":0.842,"m":-0.250},
      {"c":"lo","p":0.860,"m":-0.256},{"c":"lo","p":0.880,"m":-0.289},{"c":"lo","p":0.900,"m":-0.339},{"c":"lo","p":0.925,"m":-0.401},
      {"c":"lo","p":0.950,"m":-0.456},{"c":"lo","p":0.975,"m":-0.507},{"c":"lo","p":1.000,"m":-0.552},{"c":"lo","p":1.025,"m":-0.589},
      {"c":"lo","p":1.050,"m":-0.616},{"c":"lo","p":1.075,"m":-0.630},{"c":"lo","p":1.100,"m":-0.626},{"c":"lo","p":1.125,"m":-0.609},
      {"c":"lo","p":1.150,"m":-0.582},{"c":"lo","p":1.175,"m":-0.544},{"c":"lo","p":1.200,"m":-0.490},{"c":"lo","p":1.225,"m":-0.435},
      {"c":"lo","p":1.250,"m":-0.385}
    ]
  },
  "layer": [
    {
      "data": {"values": [{"t": "Provisoire"}]},
      "mark": {"type": "text", "angle": 315, "font": "Liberation Sans", "fontSize": 20, "fill": "#222222", "align": "center", "baseline": "middle"},
      "encoding": {
        "text": {"field": "t", "type": "nominal"},
        "x": {"datum": 1.186, "type": "quantitative"},
        "y": {"datum": -0.198, "type": "quantitative"}
      }
    },
    {
      "data": {"name": "pts"},
      "mark": {"type": "errorbar", "thickness": 1.5},
      "encoding": {
        "x": {
          "field": "p",
          "type": "quantitative",
          "scale": {"domain": [0, 1.25], "nice": false, "zero": false},
          "axis": {
            "values": [0, 0.05, 0.1, 0.15, 0.2, 0.25, 0.3, 0.35, 0.4, 0.45, 0.5, 0.55, 0.6, 0.65, 0.7, 0.75, 0.8, 0.85, 0.9, 0.95, 1.0, 1.05, 1.1, 1.15, 1.2, 1.25],
            "labelExpr": "round(datum.value * 20) % 2 == 0 ? format(datum.value, '.1f') : ''",
            "labelAngle": 90,
            "labelAlign": "left",
            "labelBaseline": "alphabetic",
            "labelPadding": 4,
            "title": "(c)2026 OdG-RB",
            "titleX": -39,
            "titleY": 103,
            "titleAlign": "left",
            "titleBaseline": "middle",
            "titleFont": "Liberation Sans",
            "titleFontSize": 7.5,
            "titleFontWeight": "normal",
            "titleColor": "#222222"
          }
        },
        "y": {
          "field": "m",
          "type": "quantitative",
          "scale": {"domain": [-0.75, -0.15], "reverse": true, "nice": false, "zero": false},
          "axis": {
            "values": [-0.75, -0.7, -0.65, -0.6, -0.55, -0.5, -0.45, -0.4, -0.35, -0.3, -0.25, -0.2, -0.15],
            "format": ".2f",
            "labelBaseline": "alphabetic",
            "labelPadding": 2,
            "title": null
          }
        },
        "yError": {"field": "e"},
        "color": {
          "field": "s",
          "type": "nominal",
          "scale": {"domain": ["R", "G", "Y", "B", "P"], "range": ["#EE2D35", "#5DB948", "#FFEE00", "#3C50A8", "#B2338A"]},
          "legend": {"title": null, "columnPadding": -6, "labelExpr": "datum.value == 'P' ? '\u00a0\u00a0\u00a0Rene Roy' : ''"}
        }
      }
    },
    {
      "data": {"name": "pts"},
      "mark": {"type": "point", "filled": false, "strokeWidth": 1.4, "size": 80, "opacity": 1},
      "encoding": {
        "x": {"field": "p", "type": "quantitative"},
        "y": {"field": "m", "type": "quantitative"},
        "color": {
          "field": "s",
          "type": "nominal",
          "scale": {"domain": ["R", "G", "Y", "B", "P"], "range": ["#EE2D35", "#5DB948", "#FFEE00", "#3C50A8", "#B2338A"]},
          "legend": {"title": null, "columnPadding": -6, "labelExpr": "datum.value == 'P' ? '\u00a0\u00a0\u00a0Rene Roy' : ''"}
        },
        "shape": {
          "field": "s",
          "type": "nominal",
          "scale": {"domain": ["R", "G", "Y", "B", "P"], "range": ["circle", "square", "diamond", "M-1,-1L-0.35,0L-1,1L0,0.35L1,1L0.35,0L1,-1L0,-0.35Z", "triangle-up"]},
          "legend": {"title": null, "columnPadding": -6, "labelExpr": "datum.value == 'P' ? '\u00a0\u00a0\u00a0Rene Roy' : ''"}
        }
      }
    },
    {
      "data": {"name": "fit"},
      "mark": {"type": "line", "color": "#111111", "strokeWidth": 1.1, "interpolate": "monotone"},
      "encoding": {
        "x": {"field": "p", "type": "quantitative"},
        "y": {"field": "m", "type": "quantitative"},
        "strokeDash": {
          "field": "c",
          "type": "nominal",
          "scale": {"domain": ["mid", "up", "lo"], "range": [[1, 0], [6, 3, 1, 3], [4, 3]]},
          "legend": null
        }
      }
    }
  ]
}
